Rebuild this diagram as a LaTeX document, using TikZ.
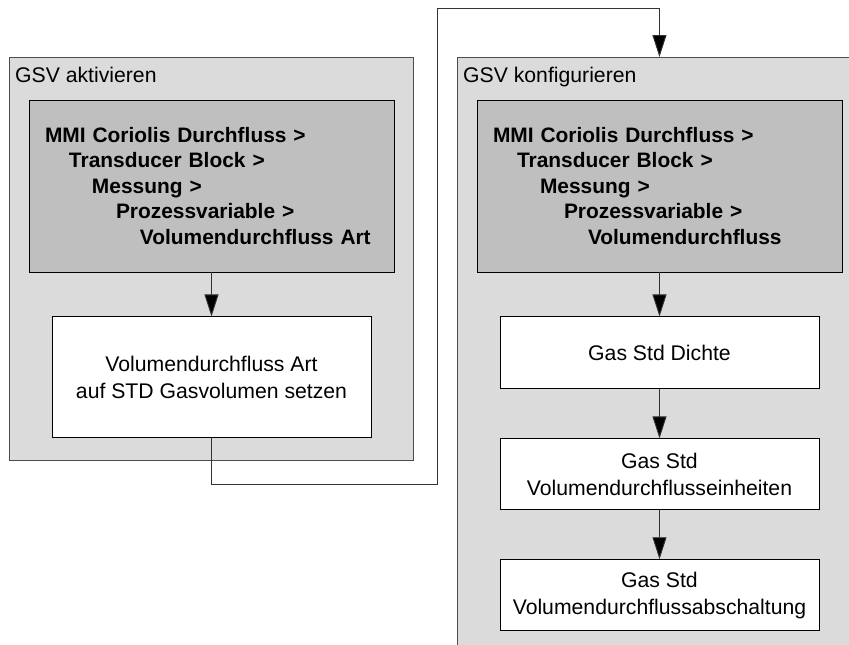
\documentclass[tikz,border=0pt]{standalone}
\usepackage{fontspec}
\setmainfont{Liberation Sans}
\usetikzlibrary{arrows.meta,positioning}

\begin{document}
\begin{tikzpicture}[
		x=1pt, y=-1pt,
		panel/.style   = {draw=black!70, fill=black!14, line width=0.9pt, anchor=north west, inner sep=0pt, minimum width=404pt},
		caption/.style = {anchor=base west, inner sep=0pt, font=\fontsize{21.2}{24}\selectfont},
		menu/.style    = {draw, fill=black!25, line width=0.9pt, minimum width=365pt, minimum height=172pt, text width=333pt, inner xsep=16pt, align=left, font=\bfseries\fontsize{20.9}{25.5}\selectfont},
		stepbox/.style = {draw, fill=white, line width=0.9pt, minimum width=319pt, align=center, font=\fontsize{21.2}{27}\selectfont},
		link/.style    = {-{Triangle[length=22pt,width=14pt,fill=black]}, line width=0.9pt, black!80},
		]
		
		% fixed page size, right panel runs off the page
		\useasboundingbox (0,0) rectangle (849,645);
		\clip (0,0) rectangle (849,645);
		
		% the two grey panels with their titles
		\node[panel, minimum height=403pt] (aktiv) at (9,57) {};
		\node[panel, minimum height=600pt] (konfig) at (457,57) {};
		\node[caption] (taktiv) at ([shift={(6,25)}]aktiv.north west) {GSV aktivieren};
		\node[caption] (tkonfig) at ([shift={(6,25)}]konfig.north west) {GSV konfigurieren};
		
		% menu paths
		\node[menu] (menuA) at (211.5,186) {MMI Coriolis Durchfluss >\\
			\hspace*{24pt}Transducer Block >\\
			\hspace*{47pt}Messung >\\
			\hspace*{71pt}Prozessvariable >\\
			\hspace*{95pt}Volumendurchfluss Art};
		\node[menu] (menuB) at (659.5,186) {MMI Coriolis Durchfluss >\\
			\hspace*{24pt}Transducer Block >\\
			\hspace*{47pt}Messung >\\
			\hspace*{71pt}Prozessvariable >\\
			\hspace*{95pt}Volumendurchfluss};
		
		% single steps, relatively positioned
		\node[stepbox, minimum height=121pt, below=44pt of menuA] (setzen) {Volumendurchfluss Art\\auf STD Gasvolumen setzen};
		\node[stepbox, minimum height=72pt, below=44pt of menuB] (dichte) {Gas Std Dichte};
		\node[stepbox, minimum height=71pt, below=49pt of dichte] (einheit) {Gas Std\\Volumendurchflusseinheiten};
		\node[stepbox, minimum height=71pt, below=49pt of einheit] (abschalt) {Gas Std\\Volumendurchflussabschaltung};
		
		% arrows inside the panels
		\foreach \a/\b in {menuA/setzen, menuB/dichte, dichte/einheit, einheit/abschalt}
		\draw[link] (\a.south) -- (\a.south |- \b.north);
		
		% link from the first panel to the second
		\coordinate (unten) at (211.5,484);
		\coordinate (oben) at (437,8);
		\draw[link] (setzen.south) -- (unten) -| (oben) -| (konfig.north);
		
	\end{tikzpicture}
\end{document}
